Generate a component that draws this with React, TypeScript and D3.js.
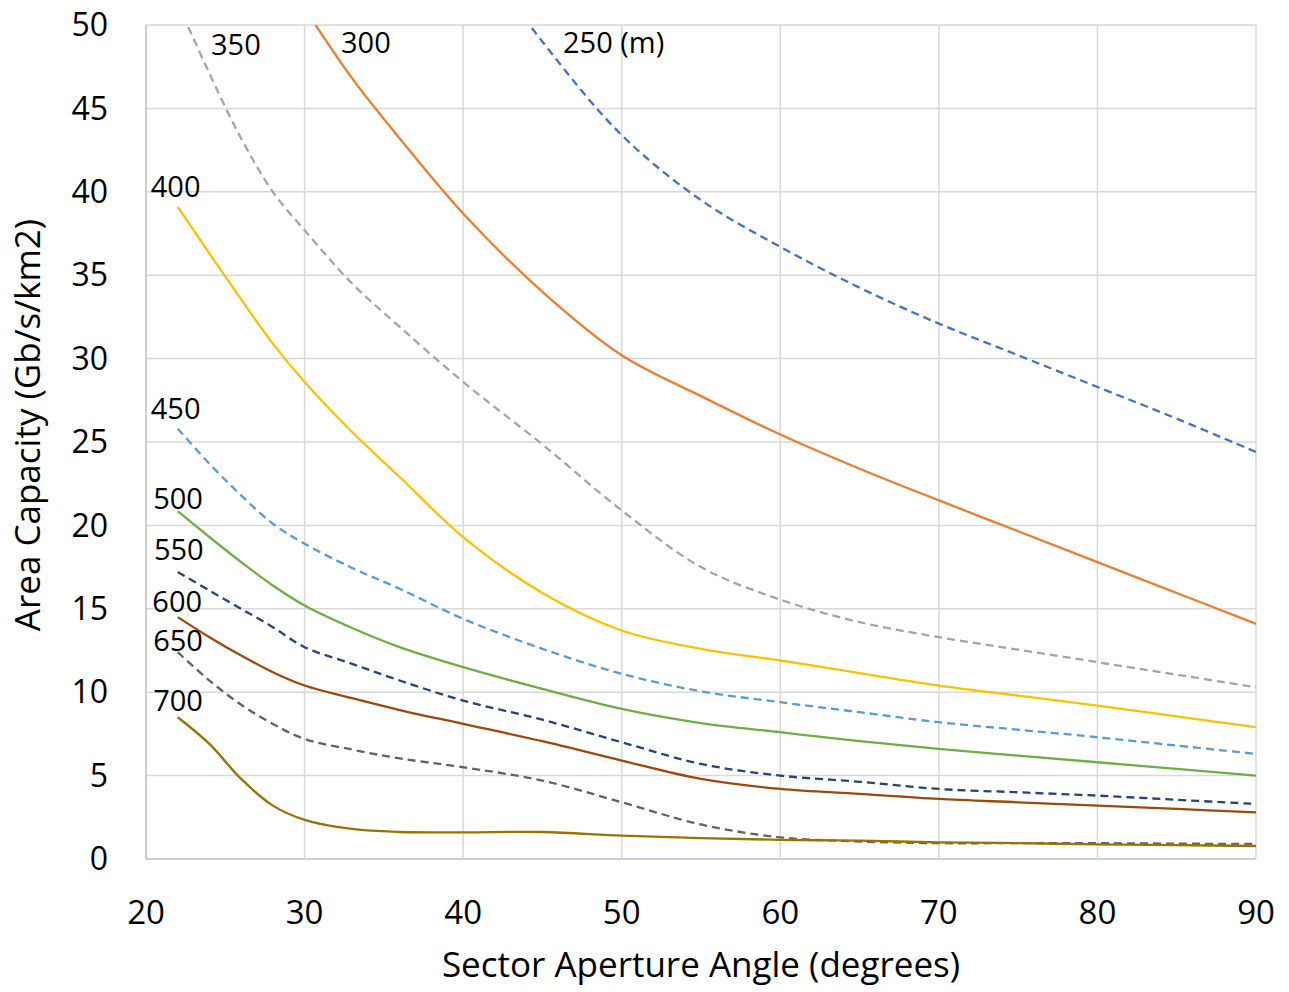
import React from "react";
import * as d3 from "d3";

const angles = [22, 24, 26, 28, 30, 33, 36, 40, 45, 50, 55, 60, 65, 70, 75, 80, 85, 90];

const cap250 = [null, null, null, null, null, null, null, 55.5, 49.0, 43.4, 39.5, 36.7, 34.25, 32.1, 30.2, 28.3, 26.4, 24.4];
const cap300 = [null, null, null, null, 51.0, 46.8, 43.2, 38.7, 34.0, 30.2, 27.75, 25.45, 23.4, 21.5, 19.65, 17.8, 15.95, 14.1];
const cap350 = [51.3, 47.1, 43.2, 40.0, 37.7, 34.5, 31.9, 28.6, 24.85, 20.9, 17.5, 15.55, 14.2, 13.3, 12.55, 11.8, 11.05, 10.3];
const cap400 = [39.1, 36.3, 33.55, 30.9, 28.6, 25.6, 22.9, 19.3, 15.95, 13.7, 12.6, 11.9, 11.15, 10.4, 9.8, 9.2, 8.55, 7.9];
const cap450 = [25.8, 23.7, 21.8, 20.1, 18.9, 17.45, 16.2, 14.4, 12.6, 11.1, 10.05, 9.4, 8.8, 8.2, 7.75, 7.3, 6.8, 6.3];
const cap500 = [20.85, 19.3, 17.8, 16.4, 15.2, 13.85, 12.7, 11.5, 10.2, 9.0, 8.15, 7.6, 7.07, 6.6, 6.2, 5.8, 5.4, 5.0];
const cap550 = [17.2, 16.1, 15.0, 13.9, 12.7, 11.7, 10.7, 9.5, 8.35, 7.0, 5.7, 5.0, 4.63, 4.2, 4.0, 3.8, 3.55, 3.3];
const cap600 = [14.5, 13.3, 12.2, 11.2, 10.4, 9.64, 8.93, 8.1, 7.06, 5.9, 4.8, 4.2, 3.9, 3.6, 3.4, 3.2, 3.0, 2.8];
const cap650 = [12.4, 10.7, 9.25, 8.1, 7.2, 6.56, 6.03, 5.5, 4.7, 3.4, 2.07, 1.3, 1.05, 0.95, 0.95, 0.95, 0.92, 0.9];
const cap700 = [8.5, 6.9, 4.8, 3.2, 2.35, 1.8, 1.62, 1.6, 1.62, 1.4, 1.25, 1.15, 1.1, 1.0, 0.95, 0.88, 0.83, 0.78];

const xTicks = [20, 30, 40, 50, 60, 70, 80, 90];
const yTicks = [0, 5, 10, 15, 20, 25, 30, 35, 40, 45, 50];

const series = [
  { name: "250", values: cap250, color: "#4472C4", dashed: true },
  { name: "300", values: cap300, color: "#ED7D31", dashed: false },
  { name: "350", values: cap350, color: "#A5A5A5", dashed: true },
  { name: "400", values: cap400, color: "#FFC000", dashed: false },
  { name: "450", values: cap450, color: "#5B9BD5", dashed: true },
  { name: "500", values: cap500, color: "#70AD47", dashed: false },
  { name: "550", values: cap550, color: "#264478", dashed: true },
  { name: "600", values: cap600, color: "#9E480E", dashed: false },
  { name: "650", values: cap650, color: "#636363", dashed: true },
  { name: "700", values: cap700, color: "#997300", dashed: false },
];

// annotation labels, anchored in data coordinates
const labels = [
  { text: "250 (m)", x: 46.3, y: 48.3 },
  { text: "300", x: 32.3, y: 48.3 },
  { text: "350", x: 24.1, y: 48.2 },
  { text: "400", x: 20.3, y: 39.7 },
  { text: "450", x: 20.3, y: 26.4 },
  { text: "500", x: 20.45, y: 21.0 },
  { text: "550", x: 20.5, y: 17.9 },
  { text: "600", x: 20.4, y: 14.8 },
  { text: "650", x: 20.45, y: 12.5 },
  { text: "700", x: 20.45, y: 8.9 },
];

const W = 1289;
const H = 992;
const M = { left: 146, right: 1256, top: 25, bottom: 859 };
const FONT = "'Open Sans', 'Noto Sans', sans-serif";

export default function App() {
  const x = d3.scaleLinear().domain([20, 90]).range([M.left, M.right]);
  const y = d3.scaleLinear().domain([0, 50]).range([M.bottom, M.top]);

  const line = d3
    .line<[number, number | null]>()
    .defined((d) => d[1] !== null)
    .x((d) => x(d[0]))
    .y((d) => y(d[1] as number))
    .curve(d3.curveCatmullRom.alpha(0.5));

  return (
    <div style={{ position: "absolute", left: 0, top: 0 }}>
      <svg width={W} height={H} style={{ display: "block", background: "#fff" }}>
        <defs>
          <clipPath id="plotclip">
            <rect x={M.left} y={M.top} width={M.right - M.left} height={M.bottom - M.top} />
          </clipPath>
        </defs>
        {/* grid */}
        {yTicks.map((t) => (
          <line
            key={"gy" + t}
            x1={M.left}
            x2={M.right}
            y1={y(t)}
            y2={y(t)}
            stroke={t === 0 ? "#BFBFBF" : "#D9D9D9"}
            strokeWidth={1.5}
          />
        ))}
        {xTicks.map((t) => (
          <line
            key={"gx" + t}
            x1={x(t)}
            x2={x(t)}
            y1={M.top}
            y2={M.bottom}
            stroke={t === 20 ? "#BFBFBF" : "#D9D9D9"}
            strokeWidth={1.5}
          />
        ))}
        {/* series */}
        <g clipPath="url(#plotclip)">
          {series.map((s) => (
            <path
              key={s.name}
              d={line(angles.map((a, i) => [a, s.values[i]] as [number, number | null])) || ""}
              fill="none"
              stroke={s.color}
              strokeWidth={2.3}
              strokeDasharray={s.dashed ? "8,5" : undefined}
            />
          ))}
        </g>
        {/* annotation labels */}
        {labels.map((l) => (
          <text key={l.text} x={x(l.x)} y={y(l.y)} fontFamily={FONT} fontSize={29} fill="#000">
            {l.text}
          </text>
        ))}
        {/* y tick labels */}
        {yTicks.map((t) => (
          <text
            key={"ty" + t}
            x={108}
            y={y(t)}
            dy="0.35em"
            textAnchor="end"
            fontFamily={FONT}
            fontSize={32}
            fill="#000"
          >
            {t}
          </text>
        ))}
        {/* x tick labels */}
        {xTicks.map((t) => (
          <text
            key={"tx" + t}
            x={x(t)}
            y={912}
            dy="0.35em"
            textAnchor="middle"
            fontFamily={FONT}
            fontSize={33}
            fill="#000"
          >
            {t}
          </text>
        ))}
        {/* axis titles */}
        <text x={(M.left + M.right) / 2} y={977} textAnchor="middle" fontFamily={FONT} fontSize={35} fill="#000">
          Sector Aperture Angle (degrees)
        </text>
        <text
          transform={`translate(40, ${425}) rotate(-90)`}
          textAnchor="middle"
          fontFamily={FONT}
          fontSize={35}
          fill="#000"
        >
          Area Capacity (Gb/s/km2)
        </text>
      </svg>
    </div>
  );
}
